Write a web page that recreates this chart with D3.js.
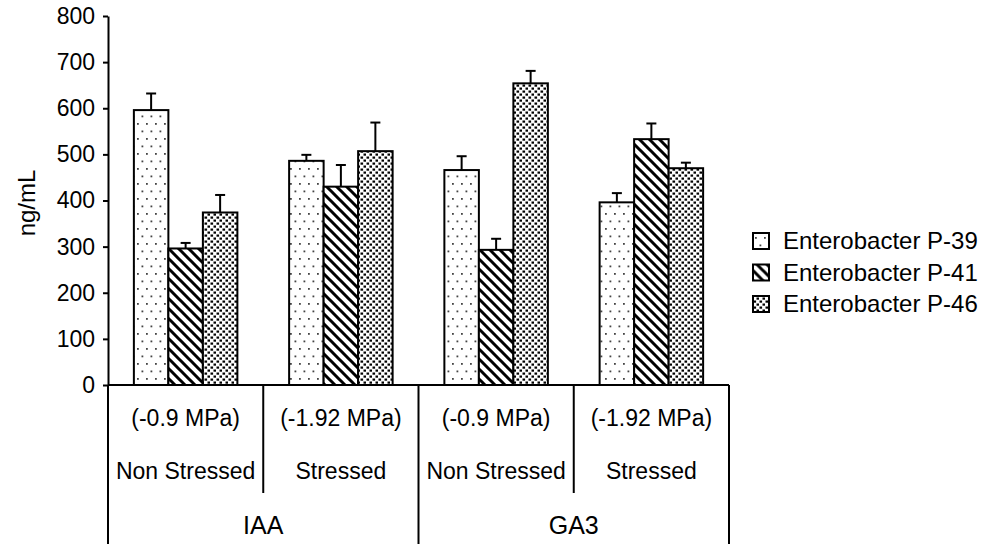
<!DOCTYPE html>
<html lang="en">
<head>
  <meta charset="UTF-8">
  <title>ng/mL by treatment</title>
  <script src="https://d3js.org/d3.v7.min.js"></script>
  <style>
    body { margin: 0; background: #fff; font-family: "Liberation Sans", Arial, sans-serif; }
    svg text { fill: #000; }
    .axis path, .axis line { stroke: #000; stroke-width: 2px; }
  </style>
</head>
<body>
  <div id="chart"></div>
  <script>
    // values
    const pressures = ["(-0.9 MPa)", "(-1.92 MPa)", "(-0.9 MPa)", "(-1.92 MPa)"];
    const conditions = ["Non Stressed", "Stressed", "Non Stressed", "Stressed"];
    const hormones = ["IAA", "GA3"];
    const seriesNames = ["Enterobacter P-39", "Enterobacter P-41", "Enterobacter P-46"];
    const p39 = [596, 486, 466, 396];
    const p41 = [296, 430, 293, 533];
    const p46 = [374, 507, 654, 470];
    const err39 = [36, 13, 30, 20];
    const err41 = [12, 47, 24, 34];
    const err46 = [38, 62, 27, 12];
    const yTicks = [0, 100, 200, 300, 400, 500, 600, 700, 800];

    const values = [p39, p41, p46];
    const errors = [err39, err41, err46];
    const groups = d3.range(pressures.length);

    const width = 989, height = 544;
    const mLeft = 108, mRight = 729, mTop = 16, mBottom = 385;

    const svg = d3.select("#chart").append("svg")
      .attr("width", width)
      .attr("height", height);

    // patterns
    const defs = svg.append("defs");
    const pDots = defs.append("pattern").attr("id", "pat0")
      .attr("patternUnits", "userSpaceOnUse").attr("width", 9).attr("height", 15);
    pDots.append("rect").attr("width", 9).attr("height", 15).attr("fill", "#fff");
    pDots.append("rect").attr("x", 2).attr("y", 3).attr("width", 1.8).attr("height", 1.8).attr("fill", "#444");
    pDots.append("rect").attr("x", 6.5).attr("y", 10.5).attr("width", 1.8).attr("height", 1.8).attr("fill", "#444");

    const pStripe = defs.append("pattern").attr("id", "pat1")
      .attr("patternUnits", "userSpaceOnUse").attr("width", 10).attr("height", 10);
    pStripe.append("rect").attr("width", 10).attr("height", 10).attr("fill", "#fff");
    pStripe.append("path").attr("d", "M-2,-2 L12,12 M-2,8 L2,12 M8,-2 L12,2")
      .attr("stroke", "#000").attr("stroke-width", 3);

    const pDense = defs.append("pattern").attr("id", "pat2")
      .attr("patternUnits", "userSpaceOnUse").attr("width", 6).attr("height", 6);
    pDense.append("rect").attr("width", 6).attr("height", 6).attr("fill", "#fff");
    pDense.append("rect").attr("x", 0.5).attr("y", 0.5).attr("width", 2.6).attr("height", 2.2).attr("fill", "#000");
    pDense.append("rect").attr("x", 3.5).attr("y", 3.5).attr("width", 2.6).attr("height", 2.2).attr("fill", "#000");

    const x0 = d3.scaleBand().domain(groups).range([mLeft, mRight]).paddingInner(0);
    const x1 = d3.scaleBand().domain(d3.range(seriesNames.length))
      .range([0, x0.bandwidth()]).paddingInner(0).paddingOuter(0.75);
    const y = d3.scaleLinear().domain([0, 800]).range([mBottom, mTop]);

    // y axis
    svg.append("g")
      .attr("class", "axis")
      .attr("transform", `translate(${mLeft},0)`)
      .call(d3.axisLeft(y).tickValues(yTicks).tickSize(5).tickPadding(8).tickSizeOuter(0))
      .call(g => g.selectAll("text").attr("font-size", 23).attr("font-family", "Liberation Sans, Arial, sans-serif"));

    svg.append("text")
      .attr("transform", `translate(35,203) rotate(-90)`)
      .attr("text-anchor", "middle")
      .attr("font-size", 24)
      .text("ng/mL");

    // bars
    const barG = svg.append("g");
    seriesNames.forEach((name, s) => {
      groups.forEach(i => {
        const bx = x0(i) + x1(s);
        const v = values[s][i];
        const e = errors[s][i];
        const cx = bx + x1.bandwidth() / 2;
        barG.append("line")
          .attr("x1", cx).attr("x2", cx)
          .attr("y1", y(v)).attr("y2", y(v + e))
          .attr("stroke", "#000").attr("stroke-width", 2);
        barG.append("line")
          .attr("x1", cx - 5).attr("x2", cx + 5)
          .attr("y1", y(v + e)).attr("y2", y(v + e))
          .attr("stroke", "#000").attr("stroke-width", 2);
        barG.append("rect")
          .attr("x", bx).attr("y", y(v))
          .attr("width", x1.bandwidth()).attr("height", y(0) - y(v))
          .attr("fill", `url(#pat${s})`)
          .attr("stroke", "#000").attr("stroke-width", 2);
      });
    });

    // x axis line
    svg.append("line")
      .attr("x1", mLeft).attr("x2", mRight)
      .attr("y1", mBottom).attr("y2", mBottom)
      .attr("stroke", "#000").attr("stroke-width", 2);

    // category table
    const tbl = svg.append("g");
    groups.forEach(i => {
      const cx = x0(i) + x0.bandwidth() / 2;
      tbl.append("text").attr("x", cx).attr("y", 426).attr("text-anchor", "middle")
        .attr("font-size", 23).text(pressures[i]);
      tbl.append("text").attr("x", cx).attr("y", 479).attr("text-anchor", "middle")
        .attr("font-size", 23).text(conditions[i]);
    });
    groups.concat([groups.length]).forEach(i => {
      const xx = i < groups.length ? x0(i) : mRight;
      tbl.append("line")
        .attr("x1", xx).attr("x2", xx)
        .attr("y1", mBottom).attr("y2", i % 2 === 0 ? height : 493)
        .attr("stroke", "#000").attr("stroke-width", 2);
    });
    hormones.forEach((h, k) => {
      const cx = (x0(k * 2) + x0(k * 2 + 1) + x0.bandwidth()) / 2;
      tbl.append("text").attr("x", cx).attr("y", 534).attr("text-anchor", "middle")
        .attr("font-size", 25).text(h);
    });

    // legend
    const legend = svg.append("g").attr("transform", "translate(753,249)");
    seriesNames.forEach((name, s) => {
      const g = legend.append("g").attr("transform", `translate(0,${s * 31.5})`);
      g.append("rect").attr("x", 0).attr("y", -16).attr("width", 16).attr("height", 16)
        .attr("fill", `url(#pat${s})`).attr("stroke", "#000").attr("stroke-width", 2);
      g.append("text").attr("x", 30).attr("y", 0).attr("font-size", 24).text(name);
    });
  </script>
</body>
</html>
